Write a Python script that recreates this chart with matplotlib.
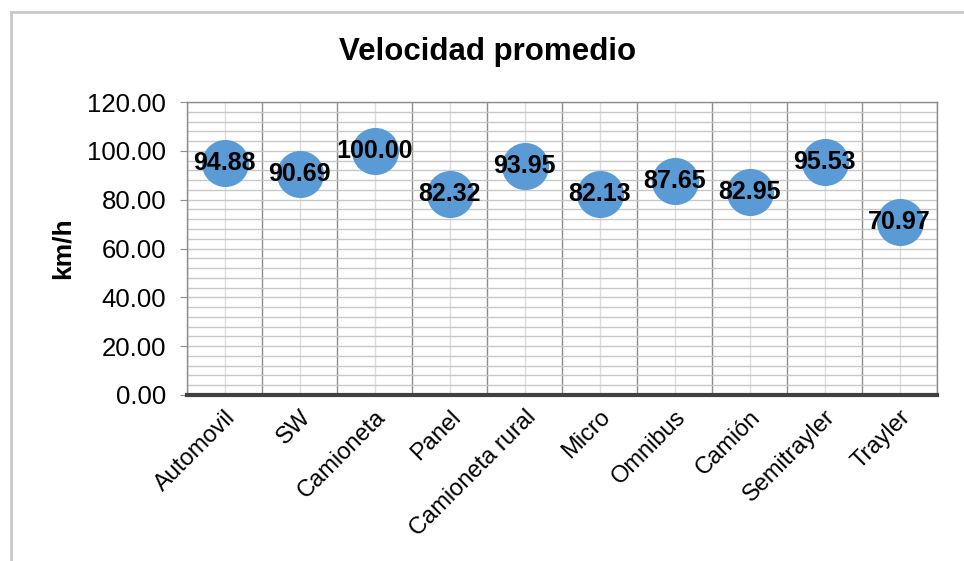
import numpy as np
import matplotlib
matplotlib.use('Agg')
from matplotlib import pyplot as plt
from matplotlib.lines import Line2D

categories = ['Automovil', 'SW', 'Camioneta', 'Panel', 'Camioneta rural',
              'Micro', 'Omnibus', 'Camión', 'Semitrayler', 'Trayler']
speeds = [94.88, 90.69, 100.00, 82.32, 93.95, 82.13, 87.65, 82.95, 95.53, 70.97]
y_ticks = [0, 20, 40, 60, 80, 100, 120]

plt.rcParams['font.family'] = ['Liberation Sans', 'DejaVu Sans']

W, H = 964, 561
fig = plt.figure(figsize=(W / 100, H / 100), dpi=100)
ax = fig.add_axes([187 / W, 1 - 395 / H, (937 - 187) / W, (395 - 102) / H])

x = np.arange(len(categories))

# grid: light minor lines, darker lines between categories
ax.set_xlim(-0.5, len(categories) - 0.5)
ax.set_ylim(0, 120)
ax.set_yticks(y_ticks)
ax.set_yticklabels(['{:.2f}'.format(v) for v in y_ticks], fontsize=18.5)
ax.set_yticks(np.arange(0, 121, 4), minor=True)
ax.set_xticks(x)
ax.set_xticklabels(categories, rotation=45, ha='right', rotation_mode='anchor', fontsize=17)
ax.set_xticks(np.arange(-0.5, len(categories), 1), minor=True)

ax.grid(True, which='both', axis='y', color='#C8C8C8', lw=1)
ax.grid(True, which='major', axis='x', color='#DCDCDC', lw=1)
ax.grid(True, which='minor', axis='x', color='#8C8C8C', lw=1)
ax.set_axisbelow(True)

ax.tick_params(axis='x', which='both', length=0, pad=8)
ax.tick_params(axis='y', which='major', length=5, color='#8C8C8C', pad=10)
ax.tick_params(axis='y', which='minor', length=0)

for side in ['left', 'right', 'top']:
    ax.spines[side].set_color('#8C8C8C')
    ax.spines[side].set_linewidth(1)
ax.spines['bottom'].set_color('#404040')
ax.spines['bottom'].set_linewidth(3)

ax.scatter(x, speeds, s=1150, color='#5B9BD5', linewidths=0, zorder=3, clip_on=False)
for xi, v in zip(x, speeds):
    ax.text(xi, v, '{:.2f}'.format(v), ha='center', va='center', fontsize=18,
            fontweight='bold', zorder=4)

ax.set_ylabel('km/h', fontsize=19, fontweight='bold', labelpad=9)
fig.text(488 / W, 1 - 52 / H, 'Velocidad promedio', ha='center', va='center',
         fontsize=22.5, fontweight='bold')

# outer chart frame
fx, fy = 11 / W, 1 - 12 / H
fig.add_artist(Line2D([fx, fx], [0, fy], color='#C8C8C8', lw=2))
fig.add_artist(Line2D([fx, 1], [fy, fy], color='#C8C8C8', lw=2))

fig.savefig('out.png', dpi=100)
